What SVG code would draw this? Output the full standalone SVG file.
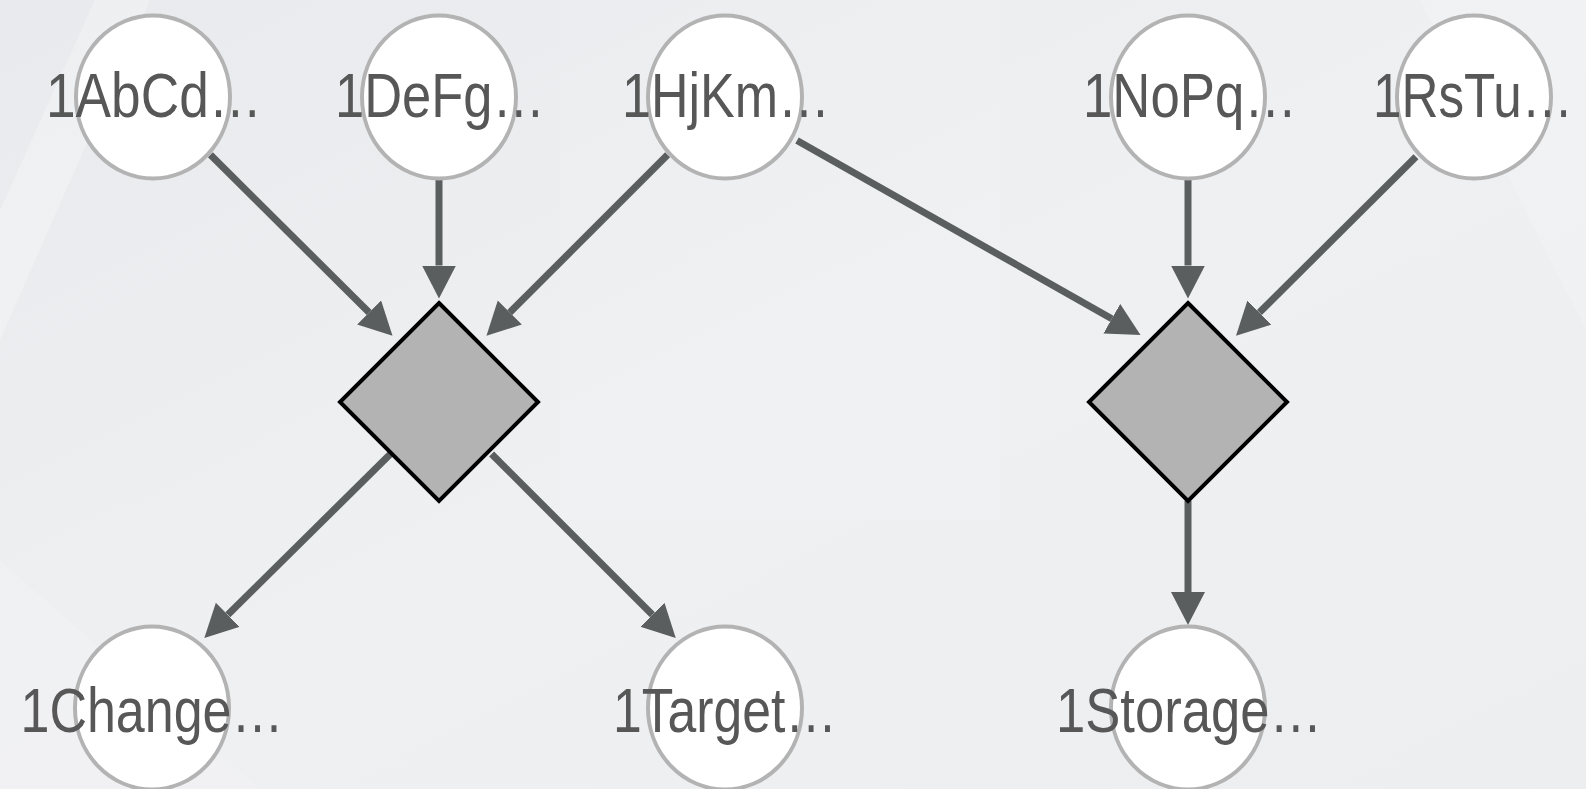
<svg xmlns="http://www.w3.org/2000/svg" width="1586" height="789" viewBox="0 0 1586 789">
  <style>
    .node-circle { fill: #ffffff; stroke: #b3b3b3; stroke-width: 4; }
    .node-diamond { fill: #b3b3b3; stroke: #000000; stroke-width: 4; stroke-linejoin: miter; }
    .label { font-family: "Liberation Sans", Arial, sans-serif; font-size: 63px; fill: #575757; text-anchor: middle; }
    .edge { fill: none; stroke: #5a5e5e; stroke-width: 7; marker-end: url(#arrow); }
    .shade { fill: #ffffff; }
  </style>
  <defs>
    <linearGradient id="bg" x1="0" y1="0" x2="1" y2="1">
      <stop offset="0" stop-color="#e8eaed"/>
      <stop offset="0.5" stop-color="#eff0f2"/>
      <stop offset="1" stop-color="#edeef0"/>
    </linearGradient>
    <marker id="arrow" markerUnits="userSpaceOnUse" markerWidth="34" markerHeight="36" refX="0" refY="17" orient="auto">
      <path d="M0,0 L33,17 L0,34 z" fill="#5a5e5e"/>
    </marker>
  </defs>

  <!-- backdrop -->
  <rect x="0" y="0" width="1586" height="789" fill="url(#bg)"/>
  <g id="backdrop-shapes">
    <polygon class="shade" points="0,210 95,0 150,0 0,340" opacity="0.25"/>
    <polygon class="shade" points="560,0 1000,0 1000,520 560,520" opacity="0.08"/>
    <polygon class="shade" points="1420,0 1586,0 1586,330" opacity="0.15"/>
    <polygon class="shade" points="0,789 0,560 260,789" opacity="0.12"/>
  </g>

  <!-- connectors: each path ends at the arrowhead base; the marker supplies the head -->
  <g id="connectors">
    <path class="edge" d="M210.4,154.8 L369.1,312.5"/>
    <path class="edge" d="M439,180 L439,265.5"/>
    <path class="edge" d="M667.6,154.8 L509.8,312.5"/>
    <path class="edge" d="M797,140.5 L1111.8,318.7"/>
    <path class="edge" d="M1188,180 L1188,265.5"/>
    <path class="edge" d="M1416,156.8 L1259.4,312.5"/>
    <path class="edge" d="M390.4,454 L227.8,614.8"/>
    <path class="edge" d="M491.6,454 L652.4,614.7"/>
    <path class="edge" d="M1188,500.7 L1188,592"/>
  </g>

  <!-- top row -->
  <g id="n-abcd">
    <ellipse class="node-circle" cx="153" cy="97" rx="77" ry="81.5"/>
    <text class="label" x="154" y="117" textLength="216" lengthAdjust="spacingAndGlyphs">1AbCd…</text>
  </g>
  <g id="n-defg">
    <ellipse class="node-circle" cx="439" cy="97" rx="77" ry="81.5"/>
    <text class="label" x="440" y="117" textLength="210" lengthAdjust="spacingAndGlyphs">1DeFg…</text>
  </g>
  <g id="n-hjkm">
    <ellipse class="node-circle" cx="725" cy="97" rx="77" ry="81.5"/>
    <text class="label" x="726" y="117" textLength="208" lengthAdjust="spacingAndGlyphs">1HjKm…</text>
  </g>
  <g id="n-nopq">
    <ellipse class="node-circle" cx="1188" cy="97" rx="77" ry="81.5"/>
    <text class="label" x="1190" y="117" textLength="214" lengthAdjust="spacingAndGlyphs">1NoPq…</text>
  </g>
  <g id="n-rstu">
    <ellipse class="node-circle" cx="1474" cy="97" rx="77" ry="81.5"/>
    <text class="label" x="1473" y="117" textLength="200" lengthAdjust="spacingAndGlyphs">1RsTu…</text>
  </g>

  <!-- junctions -->
  <g id="j-left">
    <polygon class="node-diamond" points="439,303 538,402 439,501 340,402"/>
  </g>
  <g id="j-right">
    <polygon class="node-diamond" points="1188,303 1287,402 1188,501 1089,402"/>
  </g>

  <!-- bottom row -->
  <g id="n-change">
    <ellipse class="node-circle" cx="152" cy="708" rx="77" ry="81.5"/>
    <text class="label" x="152" y="732" textLength="263" lengthAdjust="spacingAndGlyphs">1Change…</text>
  </g>
  <g id="n-target">
    <ellipse class="node-circle" cx="725" cy="708" rx="77" ry="81.5"/>
    <text class="label" x="725" y="732" textLength="224" lengthAdjust="spacingAndGlyphs">1Target…</text>
  </g>
  <g id="n-storage">
    <ellipse class="node-circle" cx="1188" cy="708" rx="77" ry="81.5"/>
    <text class="label" x="1189" y="732" textLength="266" lengthAdjust="spacingAndGlyphs">1Storage…</text>
  </g>
</svg>
